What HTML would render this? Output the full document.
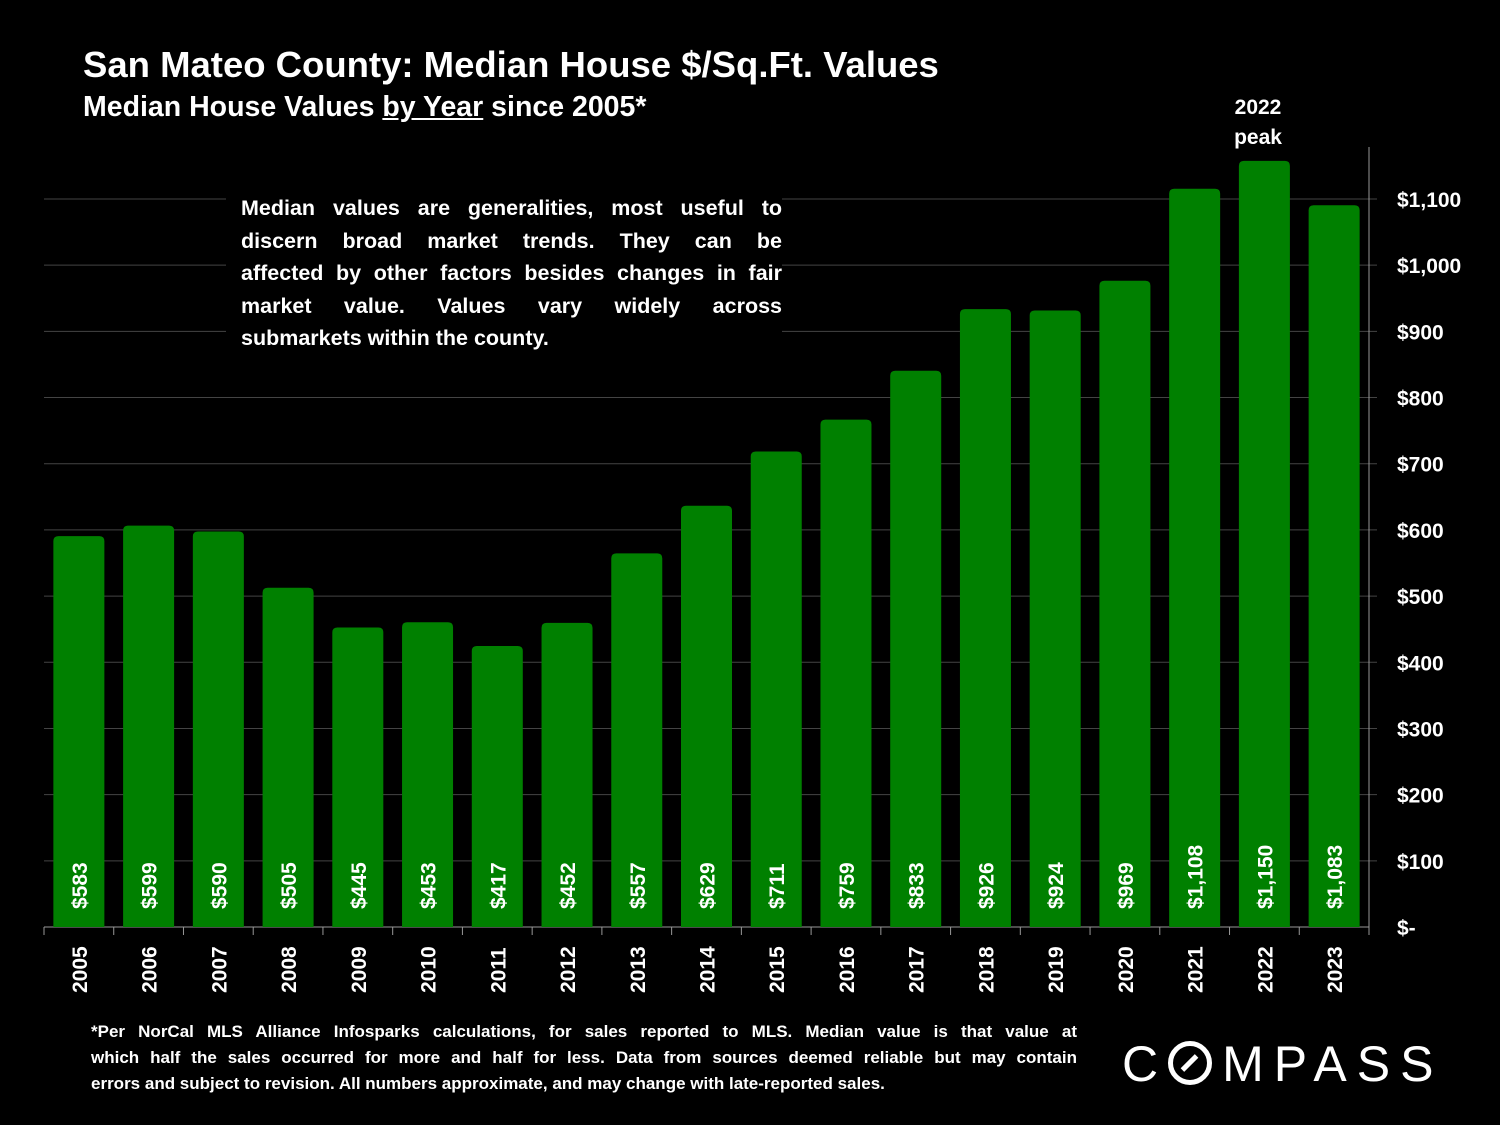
<!DOCTYPE html>
<html><head><meta charset="utf-8">
<style>
html,body{margin:0;padding:0;background:#000;}
body{width:1500px;height:1125px;position:relative;overflow:hidden;font-family:"Liberation Sans",sans-serif;color:#fff;}
.t{position:absolute;font-weight:bold;white-space:nowrap;}
.j{text-align:justify;text-align-last:justify;white-space:nowrap;}
.l{text-align:left;white-space:nowrap;}
</style></head>
<body>
<div class="t" style="left:83px;top:44px;font-size:36.5px;">San Mateo County: Median House $/Sq.Ft. Values</div>
<div class="t" style="left:83px;top:91px;font-size:28.5px;">Median House Values <span style="text-decoration:underline">by Year</span> since 2005*</div>
<div style="position:absolute;left:226px;top:192px;width:556px;padding-left:15px;box-sizing:border-box;background:#000;font-weight:bold;font-size:21.5px;line-height:32.6px;z-index:2;">
<div class="j" style="word-spacing:-1px">Median values are generalities, most useful to</div>
<div class="j">discern broad market trends. They can be</div>
<div class="j" style="word-spacing:-2px">affected by other factors besides changes in fair</div>
<div class="j">market value. Values vary widely across</div>
<div class="l">submarkets within the county.</div>
</div>
<div class="t" style="left:1222px;top:93px;width:72px;text-align:center;font-size:21px;line-height:30px;">2022<br>peak</div>
<div style="position:absolute;left:91px;top:1019px;width:986px;font-weight:bold;font-size:17px;line-height:26px;">
<div class="j" style="word-spacing:-1px">*Per NorCal MLS Alliance Infosparks calculations, for sales reported to MLS. Median value is that value at</div>
<div class="j" style="word-spacing:-1px">which half the sales occurred for more and half for less. Data from sources deemed reliable but may contain</div>
<div class="l">errors and subject to revision. All numbers approximate, and may change with late-reported sales.</div>
</div>
<div style="position:absolute;left:1122px;top:1036px;font-size:50px;letter-spacing:10px;font-weight:normal;line-height:56px;white-space:nowrap;">C<span style="display:inline-block;width:44px;height:44px;border:5px solid #fff;border-radius:50%;box-sizing:border-box;vertical-align:-4px;position:relative;margin-right:10px;"><span style="position:absolute;left:14px;top:7px;width:5px;height:20px;background:#fff;transform:rotate(45deg);"></span></span>MPASS</div>
<svg id="chart" width="1500" height="1125" style="position:absolute;left:0;top:0;"></svg>
<script>
const years=["2005","2006","2007","2008","2009","2010","2011","2012","2013","2014","2015","2016","2017","2018","2019","2020","2021","2022","2023"];
const values=[583,599,590,505,445,453,417,452,557,629,711,759,833,926,924,969,1108,1150,1083];
const ticks=[0,100,200,300,400,500,600,700,800,900,1000,1100];
const tickLabels=["$-","$100","$200","$300","$400","$500","$600","$700","$800","$900","$1,000","$1,100"];
const NS="http://www.w3.org/2000/svg";
const svg=document.getElementById('chart');
const x0=44,x1=1369,y0=927,yTop=199;
const y=v=>y0-(v/1100)*(y0-yTop);
const bw=(x1-x0)/years.length;
const xc=i=>x0+bw*(i+0.5);
function mk(t,a){const e=document.createElementNS(NS,t);for(const k in a)e.setAttribute(k,a[k]);svg.appendChild(e);return e;}
ticks.forEach((t,i)=>{
  if(t>0){const g=mk('line',{x1:x0,x2:x1+8,y1:y(t),y2:y(t),stroke:'#444','stroke-width':1});
  
  }
  const l=mk('text',{x:1397,y:y(t)+8,fill:'#fff','font-size':21,'font-weight':'bold','font-family':'Liberation Sans, sans-serif'});
  l.textContent=tickLabels[i];
  
  
});
const ax=mk('line',{x1:x1,x2:x1,y1:147,y2:y0,stroke:'#999','stroke-width':1});


const bx=mk('line',{x1:x0,x2:x1,y1:y0,y2:y0,stroke:'#999','stroke-width':1});


years.forEach((yr,i)=>{
  const tk=mk('line',{x1:x0+bw*i,x2:x0+bw*i,y1:y0,y2:y0+8,stroke:'#999','stroke-width':1});
  
  
  const top=y(values[i])-5;
  const b=mk('path',{d:`M${xc(i)-25.5},${y0} V${top+5} Q${xc(i)-25.5},${top} ${xc(i)-20.5},${top} H${xc(i)+20.5} Q${xc(i)+25.5},${top} ${xc(i)+25.5},${top+5} V${y0} Z`,fill:'#008000'});
  
  
  const vl=mk('text',{transform:`translate(${xc(i)+8},909) rotate(-90)`,fill:'#fff','font-size':21,'font-weight':'bold','font-family':'Liberation Sans, sans-serif'});
  vl.textContent='$'+values[i].toLocaleString('en-US');
  
  
  const xl=mk('text',{transform:`translate(${xc(i)+8},993) rotate(-90)`,fill:'#fff','font-size':21,'font-weight':'bold','font-family':'Liberation Sans, sans-serif'});
  xl.textContent=yr;
  
  
});
const lt=mk('line',{x1:x1,x2:x1,y1:y0,y2:y0+8,stroke:'#999','stroke-width':1});


</script>
</body></html>
